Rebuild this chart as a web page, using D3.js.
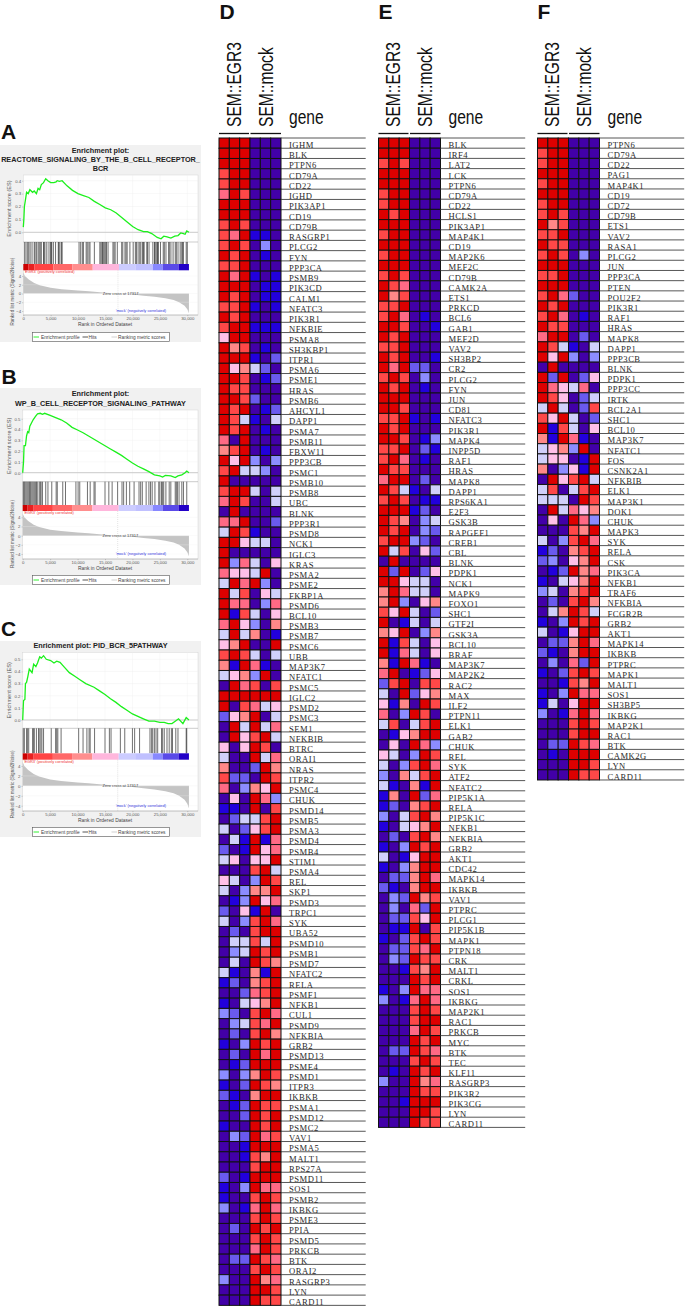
<!DOCTYPE html>
<html>
<head>
<meta charset="utf-8">
<script src="https://cdn.jsdelivr.net/npm/d3@7"></script>
<style>
  body { margin: 0; background: #fff; }
  svg { display: block; }
  text { font-family: "Liberation Sans", Arial, sans-serif; }
  .gene { font-family: "Liberation Serif", serif; font-size: 8.6px; letter-spacing: 0.5px; fill: #2a2a2a; }
  .axis text { fill: #555; font-size: 4.3px; }
  .axis path, .axis line { stroke: #888; stroke-width: 0.4; }
</style>
</head>
<body>
<div id="area"></div>
<script>
// running enrichment score [rank, ES]
const esA = [[0,0.04],[100,0.1],[200,0.2],[350,0.24],[600,0.31],[900,0.3],[1200,0.33],[1700,0.31],[2000,0.32],[2400,0.3],[2700,0.34],[3000,0.33],[3300,0.37],[3700,0.385],[4100,0.415],[4500,0.4],[5000,0.385],[5600,0.385],[6000,0.39],[6200,0.4],[6600,0.395],[7100,0.4],[8000,0.36],[9000,0.325],[10000,0.3],[11000,0.285],[12000,0.27],[13000,0.24],[14000,0.215],[15000,0.19],[16000,0.175],[17000,0.15],[18000,0.115],[19000,0.08],[20000,0.045],[21000,0.02],[22000,0.005],[22700,0.005],[23500,-0.01],[24500,-0.04],[25200,-0.05],[25700,-0.03],[26300,-0.035],[27000,-0.045],[27700,-0.03],[28300,-0.025],[28800,-0.005],[29300,-0.01],[29600,-0.015],[29900,0.01],[30300,0]]
const esB = [[0,0],[150,0.1],[250,0.25],[500,0.25],[700,0.34],[900,0.38],[1100,0.37],[1300,0.43],[1600,0.46],[1900,0.49],[2300,0.52],[2700,0.545],[3200,0.55],[3600,0.54],[4000,0.55],[5000,0.53],[6000,0.51],[7000,0.49],[8000,0.46],[9000,0.42],[10000,0.395],[11000,0.37],[12000,0.34],[13000,0.31],[14000,0.28],[15000,0.25],[16000,0.22],[17000,0.19],[18000,0.16],[19000,0.125],[20000,0.09],[21000,0.06],[22000,0.035],[23000,0.01],[24000,-0.02],[25000,-0.03],[25500,-0.04],[26000,-0.025],[27000,-0.03],[27800,-0.045],[28300,-0.03],[29000,-0.02],[29600,0],[29900,0.015],[30300,0]]
const esC = [[0,0],[150,0.16],[400,0.17],[500,0.3],[700,0.31],[900,0.35],[1200,0.42],[1700,0.39],[2000,0.46],[2400,0.44],[2700,0.47],[3100,0.52],[3400,0.51],[3800,0.53],[4300,0.5],[5100,0.49],[5700,0.47],[6200,0.485],[6800,0.475],[7500,0.44],[8500,0.39],[9500,0.36],[10500,0.33],[11500,0.3],[13000,0.27],[14000,0.24],[15000,0.21],[16000,0.175],[17000,0.145],[18000,0.11],[19000,0.08],[20000,0.05],[21000,0.03],[22000,0.01],[23000,-0.01],[24000,-0.01],[25000,-0.02],[25800,-0.02],[26500,-0.03],[27200,-0.03],[27800,-0.01],[28400,0.01],[29200,-0.03],[29800,0.02],[30300,0]]

// gene set hits (rank)
const hitsA = [250,500,800,1000,1250,1600,2000,2150,2400,2700,2900,3100,3300,3700,3800,3950,4300,4700,5000,5100,5200,5500,5900,6400,6500,6700,7000,7100,10200,10500,10800,11000,11500,11700,12000,12200,13000,14000,14200,14400,14500,14700,14900,15100,15200,15500,16400,16600,16800,17200,18000,18200,18600,18800,19000,19500,20100,20500,20700,21000,21300,21500,21800,22000,22100,22600,22700,23000,23700,24000,24100,24300,24500,24600,24700,25100,25600,25800,26100,26600,26700,27000,27400,27800,28000,28300,28700,29000,29100,29300,29800,30000]
const hitsB = [100,250,400,600,800,1000,1200,1350,1500,1700,1900,2100,2300,2500,2650,3000,3200,3350,3600,4200,4600,5300,6100,6300,7300,7800,9700,10100,10400,11800,12300,13000,13200,15000,15700,16300,17300,18100,18400,18900,19500,20300,21200,21500,21800,22500,23000,23300,23600,24100,24800,25000,25300,25500,25700,26100,26700,27000,27800,28000,28200,28500,29000,29300,29900]
const hitsC = [100,300,700,900,1100,1800,2000,2100,2500,2900,3000,3300,3500,3800,5200,6000,6200,6400,7000,10200,11000,11700,12100,12300,13100,15000,15800,16100,17800,18600,20000,20400,21300,23200,23500,23700,24000,24300,24600,25300,25500,25800,26300,26700,27100,27300,27900,28300,29800,29900]

// ranked list metric [rank, signal2noise]
const metric = [[0,4.8],[300,4],[1000,3.2],[2000,2.4],[3000,1.9],[5000,1.3],[7000,1],[10000,0.7],[12000,0.5],[15000,0.2],[17317,0],[20000,-0.25],[22000,-0.5],[24000,-0.75],[26000,-1.1],[27500,-1.5],[28500,-2],[29500,-2.8],[30000,-3.6],[30300,-4.5]]

const rankTicks = [0,5000,10000,15000,20000,25000,30000]
const bandEdges = [0,900,2000,5500,9000,12700,17500,20500,23700,25500,28400,30300]
const bandColors = ['#cc0000','#e82222','#ff4444','#ff6868','#ff8e8e','#ffb6dc','#ccccff','#c0c0ff','#8888ff','#5a4ae8','#2200c8']

// heatmap levels, one digit per cell: 0 deep purple ... 9 deep red
const levelColors = ['#4200a8','#2200dc','#6a5aee','#8c8cff','#d0d0fa','#ffc0e8','#ff8888','#ff6a85','#ff4848','#dd0000']

const genesD = ['IGHM','BLK','PTPN6','CD79A','CD22','IGHD','PIK3AP1','CD19','CD79B','RASGRP1','PLCG2','FYN','PPP3CA','PSMB9','PIK3CD','CALM1','NFATC3','PIK3R1','NFKBIE','PSMA8','SH3KBP1','ITPR1','PSMA6','PSME1','HRAS','PSMB6','AHCYL1','DAPP1','PSMA7','PSMB11','FBXW11','PPP3CB','PSMC1','PSMB10','PSMB8','UBC','BLNK','PPP3R1','PSMD8','NCK1','IGLC3','KRAS','PSMA2','PSME2','FKBP1A','PSMD6','BCL10','PSMB3','PSMB7','PSMC6','UBB','MAP3K7','NFATC1','PSMC5','IGLC2','PSMD2','PSMC3','SEM1','NFKBIB','BTRC','ORAI1','NRAS','ITPR2','PSMC4','CHUK','PSMD14','PSMB5','PSMA3','PSMD4','PSMB4','STIM1','PSMA4','REL','SKP1','PSMD3','TRPC1','SYK','UBA52','PSMD10','PSMB1','PSMD7','NFATC2','RELA','PSMF1','NFKB1','CUL1','PSMD9','NFKBIA','GRB2','PSMD13','PSME4','PSMD1','ITPR3','IKBKB','PSMA1','PSMD12','PSMC2','VAV1','PSMA5','MALT1','RPS27A','PSMD11','SOS1','PSMB2','IKBKG','PSME3','PPIA','PSMD5','PRKCB','BTK','ORAI2','RASGRP3','LYN','CARD11']
const levelsD = ['999000','999000','999000','899000','899000','798000','999000','999000','898000','879110','898030','989010','889000','979101','999011','989011','889101','989000','899111','599000','968010','999102','956420','998012','988000','998200','989012','984104','989010','709000','689010','959303','894430','900000','899404','798004','090000','779002','498100','995440','900000','937405','755490','497930','948054','977037','918405','795306','494601','569009','898404','619710','456390','097808','999999','908745','256904','094947','095894','505980','400947','600296','822098','703659','050973','110908','024489','402589','041917','201957','450559','000894','540398','403669','013957','205190','403897','020899','044849','034989','040986','410619','120689','002789','104569','320897','034879','020896','103989','020979','012999','303698','102986','210699','012988','002989','100989','032978','001999','001869','000899','201999','103977','100898','301797','000898','020989','000898','000798','022987','000898','300967','000998','000988']

const genesE = ['BLK','IRF4','LAT2','LCK','PTPN6','CD79A','CD22','HCLS1','PIK3AP1','MAP4K1','CD19','MAP2K6','MEF2C','CD79B','CAMK2A','ETS1','PRKCD','BCL6','GAB1','MEF2D','VAV2','SH3BP2','CR2','PLCG2','FYN','JUN','CD81','NFATC3','PIK3R1','MAPK4','INPP5D','RAF1','HRAS','MAPK8','DAPP1','RPS6KA1','E2F3','GSK3B','RAPGEF1','CREB1','CBL','BLNK','PDPK1','NCK1','MAPK9','FOXO1','SHC1','GTF2I','GSK3A','BCL10','BRAF','MAP3K7','MAP2K2','RAC2','MAX','ILF2','PTPN11','ELK1','GAB2','CHUK','REL','SYK','ATF2','NFATC2','PIP5K1A','RELA','PIP5K1C','NFKB1','NFKBIA','GRB2','AKT1','CDC42','MAPK14','IKBKB','VAV1','PTPRC','PLCG1','PIP5K1B','MAPK1','PTPN18','CRK','MALT1','CRKL','SOS1','IKBKG','MAP2K1','RAC1','PRKCB','MYC','BTK','TEC','KLF11','RASGRP3','PIK3R2','PIK3CG','LYN','CARD11']
const levelsE = ['999000','999000','898000','999000','999000','899000','899000','989000','999000','899000','999000','899000','999000','898000','987000','968000','889000','897010','998001','989000','889000','989001','979220','898030','989010','999000','998000','889101','989000','998013','889021','897010','988000','799020','984104','898011','999120','986034','989032','899320','948052','090000','929025','995440','697440','693056','859402','901404','659036','918405','917405','619710','790125','289088','409256','516098','703980','480489','015699','050973','540398','403897','306489','410619','160927','120689','304896','104569','020896','103989','401599','103699','022697','210699','032968','030729','022859','011908','102898','022879','032988','001869','000989','103977','301797','000898','000899','000798','000989','022987','000898','010989','300967','000988','001999','000998','000988']

const genesF = ['PTPN6','CD79A','CD22','PAG1','MAP4K1','CD19','CD72','CD79B','ETS1','VAV2','RASA1','PLCG2','JUN','PPP3CA','PTEN','POU2F2','PIK3R1','RAF1','HRAS','MAPK8','DAPP1','PPP3CB','BLNK','PDPK1','PPP3CC','IRTK','BCL2A1','SHC1','BCL10','MAP3K7','NFATC1','FOS','CSNK2A1','NFKBIB','ELK1','MAP3K1','DOK1','CHUK','MAPK3','SYK','RELA','CSK','PIK3CA','NFKB1','TRAF6','NFKBIA','FCGR2B','GRB2','AKT1','MAPK14','IKBKB','PTPRC','MAPK1','MALT1','SOS1','SH3BP5','IKBKG','MAP2K1','RAC1','BTK','CAMK2G','LYN','CARD11']
const levelsF = ['999000','899000','899000','999000','899000','999000','899000','898000','968000','889000','988000','898030','999000','889000','999000','897200','989000','897010','988000','799020','984104','959303','090000','929025','975470','985024','494028','859402','918405','619710','456390','455019','603519','095894','480489','444098','094756','050973','000869','403897','120689','230569','012967','104569','340689','020896','046984','103989','401599','022697','210699','030729','102898','001869','103977','140599','301797','000898','000899','022987','010999','000998','000988']

const svg = d3.select('#area').append('svg')
  .attr('width', 685)
  .attr('height', 1309)

const levelScale = d3.scaleOrdinal().domain(d3.range(10)).range(levelColors)

function letter(t, x, y) {
  svg.append('text').attr('x', x).attr('y', y)
    .attr('font-weight', 700).attr('font-size', 21).attr('fill', '#111')
    .text(t)
}

function heatmap(x0, step, genes, levels) {
  const top = 138
  const g = svg.append('g')
  const cols = d3.scaleBand().domain(d3.range(6)).range([x0, x0 + 62])
  const rows = d3.scaleBand().domain(d3.range(genes.length)).range([top, top + step * genes.length])

  const head = [['SEM::EGR3', 21.5], ['SEM::mock', 53.5]]
  head.forEach(h => {
    g.append('text')
      .attr('transform', `translate(${x0 + h[1]},127) rotate(-90) scale(0.78,1)`)
      .attr('font-size', 20).attr('fill', '#111').text(h[0])
  })
  g.append('text')
    .attr('transform', `translate(${x0 + 70},124) scale(0.78,1)`)
    .attr('font-size', 20).attr('fill', '#111').text('gene')

  g.selectAll('.bracket').data([[0, 30], [31.5, 62]]).enter().append('line')
    .attr('x1', d => x0 + d[0]).attr('x2', d => x0 + d[1])
    .attr('y1', 133.5).attr('y2', 133.5)
    .attr('stroke', '#111').attr('stroke-width', 1.3)

  levels.forEach((lv, r) => {
    g.selectAll(null).data(lv.split('').map(Number)).enter().append('rect')
      .attr('x', (d, i) => cols(i)).attr('y', rows(r))
      .attr('width', cols.bandwidth()).attr('height', rows.bandwidth())
      .attr('fill', d => levelScale(d))
      .attr('stroke', '#111').attr('stroke-width', 1)
  })

  g.selectAll('.rowline').data(d3.range(genes.length + 1)).enter().append('line')
    .attr('x1', x0 + 62).attr('x2', x0 + 146.7)
    .attr('y1', d => top + step * d).attr('y2', d => top + step * d)
    .attr('stroke', '#444').attr('stroke-width', 0.9)

  g.selectAll('.gene').data(genes).enter().append('text')
    .attr('class', 'gene')
    .attr('x', x0 + 70)
    .attr('y', (d, i) => rows(i) + rows.bandwidth() - 0.3)
    .text(d => d)
}

function gsea(c) {
  const g = svg.append('g')
  const L = c.left
  const R = 198
  g.append('rect').attr('x', 0).attr('y', c.bgTop).attr('width', 201).attr('height', c.bgBottom - c.bgTop).attr('fill', '#f1f1f1')

  c.title.forEach((t, i) => {
    g.append('text').attr('x', 100.5).attr('y', c.titleY + i * 9.4)
      .attr('text-anchor', 'middle').attr('font-weight', 700).attr('font-size', 7.25).attr('fill', '#222')
      .text(t)
  })

  const x = d3.scaleLinear().domain([0, 30000]).range([L, 187.3])
  const yEs = d3.scaleLinear().domain([0, c.esRef]).range([c.es0, c.esRefY])
  const yM = d3.scaleLinear().domain([-4, 4]).range([c.mLow, c.mHigh])

  // plot backgrounds
  g.append('rect').attr('x', L).attr('y', c.top).attr('width', R - L).attr('height', c.bottom - c.top).attr('fill', '#fff').attr('stroke', '#ccc').attr('stroke-width', 0.4)

  // grid
  g.selectAll('.vg').data(rankTicks).enter().append('line')
    .attr('x1', d => x(d)).attr('x2', d => x(d)).attr('y1', c.top).attr('y2', c.esBottom)
    .attr('stroke', '#eee').attr('stroke-width', 0.4)
  g.selectAll('.hg').data(c.esTicks).enter().append('line')
    .attr('x1', L).attr('x2', R).attr('y1', d => yEs(d)).attr('y2', d => yEs(d))
    .attr('stroke', '#eee').attr('stroke-width', 0.4)
  g.append('line').attr('x1', L).attr('x2', R).attr('y1', yEs(0)).attr('y2', yEs(0))
    .attr('stroke', '#ccc').attr('stroke-width', 1)

  const line = d3.line().x(d => x(d[0])).y(d => yEs(d[1]))
  g.append('path').datum(c.es).attr('d', line).attr('fill', 'none').attr('stroke', '#1cf01c').attr('stroke-width', 1.3)

  g.append('line').attr('x1', L).attr('x2', R).attr('y1', c.esBottom).attr('y2', c.esBottom).attr('stroke', '#999').attr('stroke-width', 0.5)

  // hits
  g.selectAll('.hit').data(c.hits).enter().append('line')
    .attr('x1', d => x(d)).attr('x2', d => x(d))
    .attr('y1', c.esBottom).attr('y2', c.hitBottom)
    .attr('stroke', '#222').attr('stroke-width', 0.65)

  // colour band
  g.selectAll('.band').data(bandColors).enter().append('rect')
    .attr('x', (d, i) => x(bandEdges[i])).attr('y', c.hitBottom)
    .attr('width', (d, i) => x(bandEdges[i + 1]) - x(bandEdges[i]))
    .attr('height', c.barBottom - c.hitBottom)
    .attr('fill', d => d)

  // metric
  const area = d3.area().x(d => x(d[0])).y0(yM(0)).y1(d => yM(d[1]))
  g.append('path').datum(metric).attr('d', area).attr('fill', '#c4c4c4')
  g.append('line').attr('x1', x(17317)).attr('x2', x(17317)).attr('y1', c.barBottom).attr('y2', c.bottom)
    .attr('stroke', '#bbb').attr('stroke-width', 0.4).attr('stroke-dasharray', '1,1')
  g.selectAll('.hm').data([-4, -2, 0, 2, 4]).enter().append('line')
    .attr('x1', L).attr('x2', R).attr('y1', d => yM(d)).attr('y2', d => yM(d))
    .attr('stroke', '#eee').attr('stroke-width', 0.3)

  g.append('text').attr('x', x(17800)).attr('y', yM(0) + 1).attr('text-anchor', 'middle')
    .attr('font-size', 4).attr('fill', '#444').text('Zero cross at 17317')
  g.append('text').attr('x', L + 1).attr('y', c.barBottom + 2.8)
    .attr('font-size', 3.9).attr('fill', '#e33').text("'EGR3' (positively correlated)")
  g.append('text').attr('x', 166).attr('y', c.mLow + 1).attr('text-anchor', 'end')
    .attr('font-size', 3.9).attr('fill', '#33d').text("'mock' (negatively correlated)")

  // axes
  const fmt = d3.format(',')
  g.append('g').attr('class', 'axis').attr('transform', `translate(0,${c.bottom})`)
    .call(d3.axisBottom(x).tickValues(rankTicks).tickFormat(fmt).tickSize(1.2).tickPadding(1.2))
    .call(a => a.select('.domain').attr('d', `M${L},0H${R}`))
  g.append('g').attr('class', 'axis').attr('transform', `translate(${L},0)`)
    .call(d3.axisLeft(yEs).tickValues(c.esTicks).tickFormat(d3.format('.1f')).tickSize(1.2).tickPadding(1))
    .call(a => a.select('.domain').remove())
  g.append('g').attr('class', 'axis').attr('transform', `translate(${L},0)`)
    .call(d3.axisLeft(yM).tickValues([-4, -2, 0, 2, 4]).tickSize(1.2).tickPadding(1))
    .call(a => a.select('.domain').remove())

  g.append('text').attr('x', 105).attr('y', c.bottom + 11.3).attr('text-anchor', 'middle')
    .attr('font-size', 4.9).attr('fill', '#444').text('Rank in Ordered Dataset')
  g.append('text').attr('transform', `translate(10.5,${(c.top + c.esBottom) / 2}) rotate(-90)`)
    .attr('text-anchor', 'middle').attr('font-size', 5.6).attr('fill', '#555').text('Enrichment score (ES)')
  g.append('text').attr('transform', `translate(13.8,${(c.barBottom + c.bottom) / 2 - 1}) rotate(-90)`)
    .attr('text-anchor', 'middle').attr('font-size', 4.6).attr('fill', '#555').text('Ranked list metric (Signal2Noise)')

  // legend
  const ly = c.bgBottom - 9.5
  g.append('rect').attr('x', 32.3).attr('y', ly).attr('width', 137).attr('height', 9)
    .attr('fill', '#fff').attr('stroke', '#555').attr('stroke-width', 0.6)
  const items = [['Enrichment profile', '#1cf01c', 33.5, 41], ['Hits', '#444', 82.5, 88.5], ['Ranking metric scores', '#ccc', 111.5, 118]]
  items.forEach(it => {
    g.append('line').attr('x1', it[2]).attr('x2', it[2] + 5.5).attr('y1', ly + 4.5).attr('y2', ly + 4.5)
      .attr('stroke', it[1]).attr('stroke-width', 0.9)
    g.append('text').attr('x', it[3]).attr('y', ly + 6.2).attr('font-size', 4.8).attr('fill', '#444').text(it[0])
  })
}

letter('A', 1, 138.5)
letter('B', 1.5, 383.5)
letter('C', 1, 635.5)
letter('D', 219.5, 19)
letter('E', 378.5, 19)
letter('F', 537.5, 19)

gsea({
  title: ['Enrichment plot:', 'REACTOME_SIGNALING_BY_THE_B_CELL_RECEPTOR_', 'BCR'],
  titleY: 152.5, bgTop: 145, bgBottom: 342, left: 23.3,
  top: 175, esBottom: 242, hitBottom: 264, barBottom: 270.3, bottom: 315,
  es0: 232.3, esRef: 0.4, esRefY: 180.7, esTicks: [0, 0.1, 0.2, 0.3, 0.4],
  mHigh: 276, mLow: 311, es: esA, hits: hitsA
})
gsea({
  title: ['Enrichment plot:', 'WP_B_CELL_RECEPTOR_SIGNALING_PATHWAY'],
  titleY: 396.3, bgTop: 388, bgBottom: 585, left: 22.7,
  top: 410, esBottom: 481.7, hitBottom: 505, barBottom: 511, bottom: 559,
  es0: 472.7, esRef: 0.5, esRefY: 418.7, esTicks: [0, 0.1, 0.2, 0.3, 0.4, 0.5],
  mHigh: 517.3, mLow: 554, es: esB, hits: hitsB
})
gsea({
  title: ['Enrichment plot: PID_BCR_5PATHWAY'],
  titleY: 648.4, bgTop: 641, bgBottom: 837, left: 22.7,
  top: 652.3, esBottom: 728.3, hitBottom: 753.3, barBottom: 759.7, bottom: 811,
  es0: 720, esRef: 0.5, esRefY: 659.3, esTicks: [0, 0.1, 0.2, 0.3, 0.4, 0.5],
  mHigh: 766, mLow: 805.7, es: esC, hits: hitsC
})

heatmap(219, 10.24, genesD, levelsD)
heatmap(378.5, 10.2, genesE, levelsE)
heatmap(537.5, 10.19, genesF, levelsF)
</script>
</body>
</html>
